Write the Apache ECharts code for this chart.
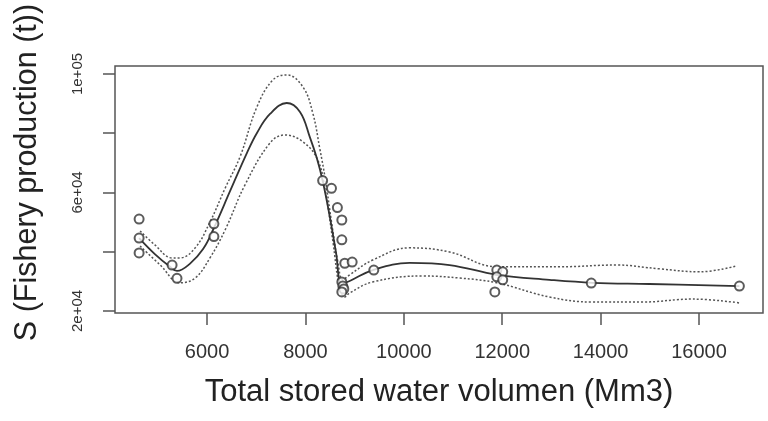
<!DOCTYPE html>
<html>
<head>
<meta charset="utf-8">
<script src="https://cdn.jsdelivr.net/npm/echarts@6/dist/echarts.min.js"></script>
<style>
  html, body { margin: 0; padding: 0; background: #fff; }
  #main { width: 768px; height: 421px; }
</style>
</head>
<body>
<div id="main"></div>
<script>
// observed points [volume, production]
var points = [
  [4620, 51000], [4620, 44600], [4620, 39600],
  [5290, 35500], [5390, 31000],
  [6140, 49400], [6140, 45100],
  [8350, 64000], [8530, 61400], [8650, 54900], [8740, 50700], [8740, 44000],
  [8800, 36100], [8950, 36500],
  [8740, 29800], [8760, 28400], [8780, 27400], [8740, 26400],
  [9390, 33800],
  [11890, 33800], [12010, 33200], [11890, 31500], [12010, 30500], [11850, 26400],
  [13810, 29400], [16820, 28400]
];

// fitted curve
var fit = [
  [4620, 44600], [4940, 39200], [5250, 34900], [5390, 33500], [5650, 35900],
  [5920, 40900], [6140, 48000], [6470, 60500], [6810, 73300], [7015, 80100],
  [7280, 86500], [7620, 90200], [7890, 87200], [8090, 78700], [8230, 71700],
  [8355, 63600], [8500, 51400], [8620, 39900], [8740, 29100],
  [8900, 30100], [9370, 33800], [10120, 36200], [10930, 35500], [11890, 32200],
  [12960, 30500], [13840, 29500], [14990, 29100], [16820, 28400]
];

// upper band
var upper = [
  [4640, 47000], [4940, 42300], [5290, 37900], [5450, 37900], [5760, 41300],
  [6060, 50000], [6370, 61500], [6670, 72000], [7015, 88900], [7340, 98000],
  [7620, 99700], [7950, 95600], [8150, 86800], [8290, 75000], [8400, 64900],
  [8540, 49000], [8660, 36500], [8760, 30500],
  [8900, 32200], [9370, 37200], [10120, 41300], [10930, 39900], [11890, 34900],
  [13170, 34900], [14320, 35500], [15200, 34200], [16010, 33200], [16760, 35200]
];

// lower band
var lower = [
  [4640, 41900], [5050, 35500], [5450, 29500], [5760, 31100], [6060, 37900],
  [6370, 47400], [6770, 62500], [7280, 76700], [7580, 79400], [7950, 77100],
  [8250, 71000], [8400, 60900], [8560, 43300], [8700, 27100], [8800, 24700],
  [8900, 26100], [9370, 29800], [10390, 31800], [11140, 31100], [11890, 29500],
  [12960, 24700], [13840, 23000], [14850, 23000], [15870, 24000], [16820, 22700]
];

// axis ticks
var xTicks = [6000, 8000, 10000, 12000, 14000, 16000];
var yTicks = [20000, 40000, 60000, 80000, 100000];
var yLabelValues = [20000, 60000, 100000];
var yLabelText = ['2e+04', '6e+04', '1e+05'];

(function() {
  var myChart = echarts.init(document.getElementById('main'));

  var bandStyle = { color: '#555', width: 1.5, type: [2, 2] };

  var option = {
    backgroundColor: '#fff',
    animation: false,
    grid: {
      left: 115, right: 5, top: 66, bottom: 108,
      show: true, borderColor: '#555', borderWidth: 1.5
    },
    xAxis: {
      type: 'value',
      min: 4130, max: 17300,
      name: 'Total stored water volumen (Mm3)',
      nameLocation: 'middle',
      nameGap: 64,
      nameTextStyle: { fontFamily: 'Liberation Sans', fontSize: 31, color: '#222' },
      axisLine: { show: false },
      splitLine: { show: false },
      axisTick: { show: true, length: 12, customValues: xTicks,
        lineStyle: { color: '#555', width: 1.5 } },
      axisLabel: { customValues: xTicks, margin: 29,
        fontFamily: 'Liberation Sans', fontSize: 20, color: '#333',
        formatter: function(v) { return String(v); } }
    },
    yAxis: {
      type: 'value',
      min: 19300, max: 102700,
      name: 'S (Fishery production (t))',
      nameLocation: 'middle',
      nameRotate: 90,
      nameGap: 72,
      nameTextStyle: { fontFamily: 'Liberation Sans', fontSize: 30.5, color: '#222',
        padding: [0, 0, 0, 34] },
      axisLine: { show: false },
      splitLine: { show: false },
      axisTick: { show: true, length: 12, customValues: yTicks,
        lineStyle: { color: '#555', width: 1.5 } },
      axisLabel: {
        customValues: yLabelValues, rotate: 90, margin: 30,
        fontFamily: 'Liberation Sans', fontSize: 15, color: '#333',
        formatter: function(v) {
          var i = yLabelValues.indexOf(v);
          return i >= 0 ? yLabelText[i] : '';
        }
      }
    },
    series: [
      { type: 'line', data: upper, smooth: 0.4, showSymbol: false, lineStyle: bandStyle, z: 2 },
      { type: 'line', data: lower, smooth: 0.4, showSymbol: false, lineStyle: bandStyle, z: 2 },
      { type: 'line', data: fit, smooth: 0.4, showSymbol: false,
        lineStyle: { color: '#333', width: 1.8 }, z: 3 },
      { type: 'scatter', data: points, symbol: 'emptyCircle', symbolSize: 9,
        itemStyle: { color: '#333', borderColor: '#333', borderWidth: 1.3 }, z: 4 }
    ]
  };
  myChart.setOption(option);
  window.addEventListener('resize', function() {
    myChart.resize();
  });
})();
</script>
</body>
</html>
